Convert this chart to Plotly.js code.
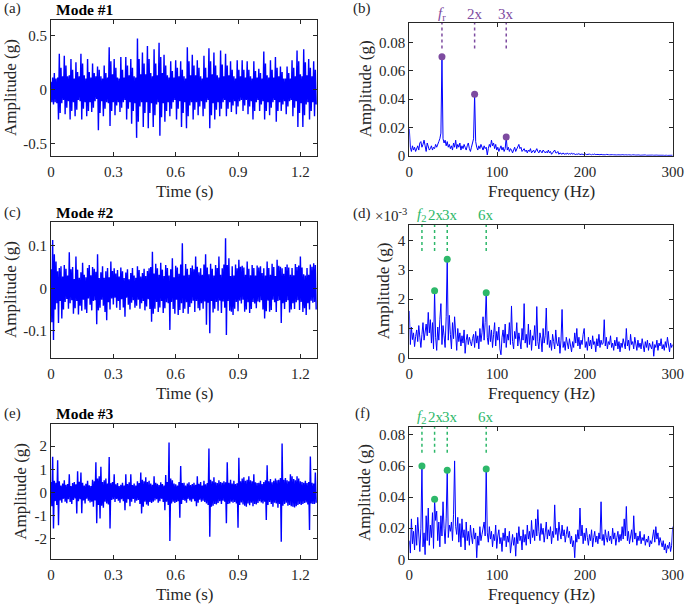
<!DOCTYPE html>
<html>
<head>
<meta charset="utf-8">
<script src="https://cdn.plot.ly/plotly-3.0.1.min.js"></script>
<style>html,body{margin:0;padding:0;background:#fff;}#chart{width:685px;height:605px;}</style>
</head>
<body>
<div id="chart"></div>
<script>
// ---------------- DATA ----------------
const sampleStep = 0.004;      // s between samples of the time signals
const freqStep = 1.2;          // Hz between spectrum bins

const mode1Signal = [
0.07,-0.12,0.11,
-0.14,0.15,-0.12,0.10,-0.13,0.11,
-0.28,0.33,-0.22,0.20,-0.13,0.12,-0.10,
0.31,-0.23,0.22,-0.17,0.12,-0.11,0.13,
-0.28,0.28,-0.20,0.18,-0.12,0.10,
-0.25,0.25,-0.19,0.16,-0.10,0.12,-0.11,
0.33,-0.28,0.24,-0.18,0.13,-0.12,0.10,
-0.25,0.28,-0.20,0.16,-0.12,0.11,
-0.21,0.24,-0.17,0.15,-0.11,0.12,-0.09,
0.21,-0.38,0.18,-0.22,0.12,-0.11,0.10,
-0.25,0.22,-0.18,0.15,-0.12,0.11,-0.13,
0.39,-0.34,0.26,-0.20,0.14,-0.12,
0.28,-0.24,0.20,-0.15,0.11,-0.12,0.10,
-0.21,0.30,-0.17,0.18,-0.12,0.11,-0.10,
0.30,-0.28,0.22,-0.18,0.13,-0.12,
0.28,-0.32,0.20,-0.20,0.12,-0.13,0.11,
-0.45,0.47,-0.30,0.28,-0.16,0.14,-0.12,
0.34,-0.35,0.24,-0.22,0.14,-0.12,
0.40,-0.36,0.28,-0.22,0.15,-0.13,0.12,
-0.35,0.37,-0.24,0.24,-0.14,0.13,-0.12,
0.43,-0.43,0.30,-0.26,0.15,-0.13,
0.32,-0.30,0.22,-0.20,0.13,-0.12,0.11,
-0.25,0.26,-0.18,0.17,-0.12,0.11,-0.10,
0.27,-0.28,0.20,-0.18,0.12,-0.11,
0.26,-0.35,0.18,-0.22,0.12,-0.12,0.10,
-0.36,0.39,-0.25,0.26,-0.15,0.13,-0.12,
0.32,-0.28,0.22,-0.19,0.13,-0.12,
0.27,-0.24,0.20,-0.16,0.12,-0.11,0.10,
-0.25,0.31,-0.18,0.20,-0.12,0.11,-0.10,
0.38,-0.36,0.26,-0.24,0.14,-0.13,
0.34,-0.28,0.22,-0.19,0.13,-0.12,0.11,
-0.25,0.36,-0.18,0.23,-0.12,0.12,-0.10,
0.33,-0.25,0.22,-0.18,0.13,-0.12,
0.26,-0.21,0.18,-0.15,0.12,-0.11,0.10,
-0.23,0.27,-0.16,0.18,-0.11,0.12,-0.10,
0.27,-0.20,0.18,-0.15,0.11,-0.10,
0.26,-0.23,0.18,-0.16,0.12,-0.11,0.10,
-0.28,0.26,-0.20,0.17,-0.12,0.11,-0.10,
0.19,-0.20,0.15,-0.14,0.10,-0.11,
0.35,-0.28,0.24,-0.20,0.13,-0.12,0.11,
-0.24,0.27,-0.17,0.18,-0.12,0.11,-0.10,
0.30,-0.30,0.20,-0.20,0.12,-0.12,
0.21,-0.20,0.16,-0.14,0.10,-0.11,0.10,
-0.23,0.21,-0.16,0.15,-0.11,0.10,-0.10,
0.27,-0.25,0.20,-0.17,0.12,-0.11,
0.36,-0.35,0.26,-0.22,0.14,-0.13,0.12,
-0.35,0.37,-0.24,0.25,-0.14,0.13,-0.12,
0.28,-0.28,0.20,-0.20,0.12,-0.12,
0.26,-0.25,0.18,-0.14
];

const mode2Signal = [
0.045,-0.080,0.114,-0.122,0.080,-0.050,0.063,-0.035,0.040,-0.082,
0.048,-0.030,0.052,-0.071,0.028,-0.050,0.055,-0.032,0.046,-0.025,
0.030,-0.048,0.085,-0.035,0.045,-0.028,0.050,-0.060,0.022,-0.047,
0.075,-0.030,0.044,-0.062,0.025,-0.041,0.038,-0.053,0.060,-0.027,
0.032,-0.050,0.026,-0.058,0.048,-0.024,0.055,-0.039,0.031,-0.052,
0.050,-0.030,0.046,-0.028,0.039,-0.085,0.080,-0.052,0.024,-0.046,
0.038,-0.027,0.052,-0.041,0.025,-0.056,0.040,-0.075,0.048,-0.033,
0.026,-0.050,0.063,-0.024,0.041,-0.038,0.047,-0.022,0.035,-0.046,
0.043,-0.030,0.028,-0.051,0.049,-0.026,0.040,-0.045,0.024,-0.067,
0.037,-0.022,0.045,-0.039,0.021,-0.050,0.036,-0.034,0.048,-0.028,
0.030,-0.046,0.025,-0.041,0.052,-0.027,0.043,-0.048,0.028,-0.035,
0.036,-0.030,0.046,-0.052,0.029,-0.043,0.041,-0.026,0.047,-0.049,
0.050,-0.079,0.086,-0.060,0.035,-0.048,0.058,-0.032,0.047,-0.056,
0.032,-0.045,0.060,-0.030,0.044,-0.058,0.029,-0.047,0.055,-0.033,
0.048,-0.035,0.030,-0.098,0.045,-0.032,0.071,-0.049,0.026,-0.060,
0.053,-0.027,0.049,-0.063,0.034,-0.051,0.056,-0.035,0.106,-0.058,
0.030,-0.048,0.057,-0.033,0.046,-0.060,0.032,-0.044,0.048,-0.035,
0.054,-0.029,0.045,-0.056,0.075,-0.030,0.051,-0.047,0.038,-0.052,
0.047,-0.035,0.032,-0.048,0.056,-0.031,0.080,-0.086,0.049,-0.034,
0.033,-0.106,0.058,-0.030,0.046,-0.057,0.030,-0.048,0.055,-0.032,
0.048,-0.053,0.075,-0.029,0.032,-0.058,0.047,-0.031,0.056,-0.046,
0.118,-0.110,0.055,-0.030,0.071,-0.053,0.029,-0.055,0.052,-0.063,
0.030,-0.048,0.056,-0.032,0.047,-0.054,0.067,-0.029,0.051,-0.036,
0.053,-0.027,0.049,-0.055,0.032,-0.050,0.063,-0.033,0.046,-0.058,
0.031,-0.049,0.055,-0.032,0.048,-0.036,0.030,-0.047,0.054,-0.031,
0.049,-0.033,0.052,-0.028,0.036,-0.050,0.047,-0.071,0.030,-0.054,
0.063,-0.029,0.048,-0.055,0.032,-0.051,0.058,-0.027,0.050,-0.033,
0.029,-0.056,0.067,-0.030,0.053,-0.028,0.051,-0.082,0.047,-0.035,
0.034,-0.049,0.050,-0.032,0.056,-0.028,0.049,-0.057,0.032,-0.050,
0.048,-0.035,0.031,-0.049,0.057,-0.033,0.050,-0.028,0.054,-0.051,
0.075,-0.032,0.049,-0.056,0.033,-0.047,0.030,-0.063,0.048,-0.035,
0.032,-0.050,0.056,-0.029,0.051,-0.034,0.059,-0.032,0.055,-0.050
];

const mode3Signal = [
0.45,-0.60,1.54,-1.56,0.50,-0.38,0.42,-0.55,1.39,-1.42,
0.48,-0.35,0.30,-0.45,0.38,-0.28,0.52,-0.40,0.33,-0.47,
0.36,-0.30,0.78,-0.42,0.28,-0.50,0.40,-0.33,0.45,-0.26,
0.35,-0.91,0.92,-0.38,0.46,-0.30,0.86,-0.90,0.42,-0.35,
0.30,-0.48,0.37,-0.27,0.50,-0.36,0.31,-0.44,0.28,-0.40,
0.55,-0.62,0.48,-0.35,1.30,-1.34,0.60,-0.55,0.70,-1.13,
1.11,-0.58,0.45,-0.66,0.52,-0.40,0.60,-0.48,0.38,-0.52,
1.53,-1.56,0.40,-0.33,0.45,-0.30,0.78,-0.42,0.35,-0.28,
0.40,-0.36,0.27,-0.45,0.33,-0.30,0.42,-0.38,0.30,-0.77,
0.78,-0.45,0.36,-0.30,0.44,-0.60,0.78,-0.40,0.32,-0.28,
0.38,-0.45,0.30,-0.36,0.48,-0.33,0.40,-0.50,0.86,-0.91,
0.55,-0.62,0.48,-0.40,0.65,-0.52,0.45,-0.58,0.50,-0.42,
0.38,-0.46,0.33,-0.40,0.70,-0.35,0.42,-0.30,0.37,-0.45,
0.32,-0.38,0.44,-0.28,0.36,-0.42,0.30,-0.77,0.75,-0.40,
0.45,-0.55,2.16,-2.11,0.60,-0.48,0.52,-0.40,0.38,-0.46,
0.35,-0.42,0.30,-0.38,0.45,-1.10,1.14,-0.50,0.40,-0.33,
0.42,-0.36,0.30,-0.45,0.38,-0.28,0.44,-0.35,0.32,-0.40,
0.36,-0.30,0.42,-0.38,0.33,-0.60,0.70,-0.45,0.37,-0.32,
0.45,-0.40,0.30,-0.36,0.50,-0.42,0.35,-0.48,0.40,-0.55,
1.90,-1.92,0.55,-0.62,0.48,-0.58,0.66,-0.50,0.44,-0.52,
0.40,-0.46,0.52,-0.38,0.45,-0.50,0.42,-0.36,0.48,-0.40,
0.44,-1.34,1.30,-0.50,0.42,-0.48,0.55,-0.40,0.38,-0.45,
0.50,-0.42,0.36,-0.48,0.40,-1.53,1.50,-0.55,0.48,-0.44,
0.60,-0.52,0.65,-0.58,0.50,-0.62,0.55,-0.48,0.70,-0.56,
0.52,-0.45,0.48,-0.60,0.78,-0.50,0.44,-0.52,0.40,-0.46,
0.42,-0.38,0.50,-0.44,0.36,-0.48,0.45,-0.40,0.52,-1.20,
1.18,-0.55,0.48,-0.42,0.58,-0.50,0.44,-0.62,0.50,-0.45,
0.60,-0.48,0.52,-0.66,0.55,-0.50,0.62,-2.14,2.12,-0.58,
0.55,-0.50,0.62,-0.45,0.52,-0.58,0.48,-0.55,0.78,-0.60,
0.70,-0.62,0.58,-0.65,0.52,-0.60,0.70,-0.55,0.60,-0.50,
0.48,-0.55,0.45,-0.50,0.42,-0.46,0.50,-0.44,0.40,-0.52,
0.45,-1.63,1.55,-0.48,0.42,-0.50,0.38,-0.50,0.86,-0.45
];

// spectrum of mode #1 (g), bins of 1.2 Hz from 0 to 300 Hz
const mode1Spectrum = [
0.019,0.006,0.003,0.007,0.004,0.006,0.003,0.005,0.007,0.004,
0.009,0.010,0.006,0.008,0.011,0.007,0.003,0.009,0.006,0.004,
0.005,0.007,0.004,0.006,0.005,0.008,0.006,0.009,0.010,0.012,
0.016,0.070,0.012,0.009,0.011,0.007,0.010,0.006,0.008,0.005,
0.007,0.004,0.009,0.006,0.011,0.005,0.008,0.006,0.009,0.004,
0.007,0.005,0.008,0.006,0.004,0.007,0.009,0.005,0.003,0.006,
0.009,0.012,0.0435,0.010,0.006,0.004,0.007,0.005,0.008,0.006,
0.004,0.007,0.005,0.006,0.0005,0.005,0.008,0.006,0.011,0.007,
0.009,0.005,0.008,0.004,0.006,0.003,0.005,0.007,0.004,0.006,
0.003,0.005,0.0132,0.004,0.006,0.003,0.005,0.004,0.002,0.004,
0.006,0.003,0.005,0.007,0.008,0.005,0.006,0.003,0.004,0.005,
0.003,0.004,0.002,0.004,0.003,0.005,0.002,0.003,0.004,0.002,
0.004,0.005,0.003,0.002,0.004,0.003,0.002,0.004,0.003,0.002,
0.003,0.002,0.004,0.002,0.003,0.001,0.002,0.003,0.004,0.002,
0.002,0.003,0.001,0.002,0.0015,0.001,0.002,0.001,0.0015,0.001,
0.002,0.001,0.0015,0.001,0.002,0.001,0.0015,0.001,0.0008,0.0012,
0.001,0.0015,0.0008,0.001,0.0012,0.0007,0.001,0.0013,0.0008,0.001,
0.0007,0.0011,0.0009,0.0006,0.001,0.0008,0.0012,0.0007,0.0009,0.0006,
0.0008,0.0006,0.001,0.0007,0.0005,0.0008,0.0006,0.0009,0.0005,0.0007,
0.0006,0.0008,0.0005,0.0007,0.0006,0.0004,0.0007,0.0005,0.0006,0.0004,
0.0006,0.0005,0.0007,0.0004,0.0005,0.0006,0.0004,0.0005,0.0006,0.0004,
0.0005,0.0004,0.0006,0.0003,0.0005,0.0004,0.0006,0.0004,0.0005,0.0003,
0.0004,0.0005,0.0003,0.0004,0.0005,0.0003,0.0004,0.0003,0.0005,0.0004,
0.0003,0.0004,0.0003,0.0005,0.0003,0.0004,0.0003,0.0004,0.0002,0.0003,
0.0004,0.0003,0.0002,0.0004,0.0003,0.0002,0.0003,0.0004,0.0002,0.0003,
0.0003
];

// spectrum of mode #2 (units of 1e-3 g)
const mode2SpectrumMilli = [
1.60,0.45,1.05,0.62,0.85,0.38,0.72,0.95,0.55,1.10,
0.70,0.35,0.80,1.20,0.60,0.95,1.15,0.75,1.55,0.85,
1.30,0.50,1.20,0.30,2.29,0.70,0.25,1.05,0.60,1.30,
1.85,0.45,1.10,0.75,0.35,1.40,3.37,0.60,1.45,0.80,
0.30,1.20,0.65,1.40,0.90,0.25,1.00,0.55,0.85,0.40,
0.75,0.50,0.95,0.15,0.60,0.80,0.45,0.70,0.55,0.40,
0.65,0.80,0.35,0.90,0.50,0.75,0.30,1.00,0.55,0.85,
1.40,0.60,1.20,2.22,0.70,0.45,1.10,0.55,0.95,0.35,
0.80,1.20,0.40,0.90,0.60,1.05,0.30,0.10,0.70,0.95,
0.50,1.15,0.35,0.80,0.60,1.20,0.45,1.77,0.55,0.30,
0.90,0.65,1.20,0.40,0.85,0.55,0.30,1.00,0.60,1.85,
0.50,0.80,0.35,1.15,0.45,0.95,0.25,0.75,0.60,1.10,
0.40,1.75,0.55,0.30,0.85,0.65,0.20,1.00,0.50,0.75,
1.70,0.45,0.90,0.35,0.60,0.25,0.80,0.55,0.30,0.95,
0.50,0.40,0.70,0.15,0.60,1.65,0.35,0.55,0.25,0.70,
0.45,0.30,0.65,0.40,0.20,0.55,0.35,0.85,0.50,1.00,
0.40,0.70,0.30,0.60,0.45,0.80,1.00,0.35,0.55,0.25,
0.70,0.40,0.60,0.30,0.75,0.45,0.55,0.20,0.65,0.40,
0.80,0.35,0.60,0.45,0.50,1.30,0.40,0.70,0.30,0.55,
0.45,0.75,0.35,0.50,0.25,0.60,0.40,0.70,0.30,0.55,
0.20,0.50,0.35,0.65,0.45,0.30,1.00,0.40,0.60,0.25,
0.80,0.45,0.55,0.30,0.70,0.40,0.25,0.60,0.35,0.50,
0.30,0.65,0.45,0.20,0.55,0.35,0.60,0.25,0.50,0.40,
0.30,0.55,0.05,0.45,0.35,0.60,0.25,0.50,0.40,0.65,
0.30,0.45,0.25,0.55,0.35,0.70,0.40,0.20,0.50,0.35,
0.45
];

// spectrum of mode #3 (g)
const mode3Spectrum = [
0.012,0.004,0.026,0.010,0.018,0.006,0.022,0.009,0.027,0.013,
0.005,0.020,0.060,0.008,0.017,0.003,0.028,0.012,0.033,0.009,
0.022,0.014,0.030,0.007,0.0386,0.025,0.031,0.012,0.024,0.008,
0.028,0.015,0.037,0.020,0.010,0.026,0.0573,0.014,0.022,0.018,
0.024,0.012,0.029,0.0633,0.021,0.016,0.027,0.011,0.023,0.008,
0.026,0.014,0.019,0.006,0.024,0.012,0.018,0.009,0.022,0.015,
0.010,0.020,0.013,0.017,0.001,0.015,0.009,0.021,0.012,0.016,
0.019,0.024,0.015,0.0581,0.017,0.011,0.021,0.013,0.018,0.008,
0.016,0.012,0.022,0.007,0.015,0.019,0.010,0.014,0.005,0.017,
0.012,0.020,0.008,0.015,0.011,0.018,0.004,0.013,0.016,0.009,
0.014,0.002,0.017,0.010,0.021,0.012,0.015,0.006,0.019,0.011,
0.016,0.009,0.022,0.013,0.018,0.010,0.025,0.014,0.019,0.012,
0.026,0.015,0.032,0.018,0.012,0.023,0.016,0.020,0.011,0.017,
0.024,0.013,0.019,0.015,0.021,0.010,0.018,0.014,0.035,0.016,
0.020,0.012,0.024,0.017,0.013,0.022,0.015,0.019,0.011,0.016,
0.021,0.014,0.018,0.010,0.015,0.008,0.012,0.001,0.016,0.011,
0.019,0.013,0.033,0.015,0.022,0.010,0.017,0.012,0.020,0.014,
0.009,0.016,0.012,0.019,0.008,0.014,0.018,0.011,0.015,0.010,
0.017,0.013,0.037,0.012,0.016,0.009,0.019,0.014,0.011,0.018,
0.012,0.015,0.010,0.020,0.013,0.017,0.009,0.014,0.018,0.011,
0.016,0.012,0.021,0.013,0.026,0.015,0.034,0.012,0.018,0.010,
0.014,0.019,0.011,0.028,0.013,0.017,0.009,0.015,0.012,0.018,
0.010,0.014,0.012,0.016,0.009,0.013,0.011,0.015,0.008,0.012,
0.010,0.014,0.019,0.011,0.021,0.013,0.017,0.009,0.014,0.011,
0.008,0.012,0.006,0.010,0.004,0.009,0.007,0.011,0.005,0.009,
0.021
];

// characteristic frequencies (Hz) and their labels
const mode1HarmFreqs = [37.2, 74.4, 110.4];
const mode1HarmLabels = ['<i>f</i><sub>r</sub>', '2x', '3x'];
const mode23HarmFreqs = [14.4, 28.8, 43.2, 87.6];
const mode23HarmLabels = ['<i>f</i><sub>2</sub>', '2x', '3x', '6x'];
const mode2MarkedFreqs = [28.8, 43.2, 87.6];
const mode3MarkedFreqs = [14.4, 28.8, 43.2, 87.6];

// tick values and labels
const timeTickVals = [0, 0.3, 0.6, 0.9, 1.2];
const timeTickText = ['0', '0.3', '0.6', '0.9', '1.2'];
const freqTickVals = [0, 100, 200, 300];
const freqTickText = ['0', '100', '200', '300'];
const ampTickValsA = [-0.5, 0, 0.5];
const ampTickTextA = ['-0.5', '0', '0.5'];
const ampTickValsB = [0, 0.02, 0.04, 0.06, 0.08];
const ampTickTextB = ['0', '0.02', '0.04', '0.06', '0.08'];
const ampTickValsC = [-0.1, 0, 0.1];
const ampTickTextC = ['-0.1', '0', '0.1'];
const ampTickValsD = [0, 1, 2, 3, 4];
const ampTickTextD = ['0', '1', '2', '3', '4'];
const ampTickValsE = [-2, -1, 0, 1, 2];
const ampTickTextE = ['-2', '-1', '0', '1', '2'];
const ampTickValsF = [0, 0.02, 0.04, 0.06, 0.08];
const ampTickTextF = ['0', '0.02', '0.04', '0.06', '0.08'];

// ---------------- STYLE / LAYOUT ----------------
const W = 685, H = 605;
const FONT = '"Liberation Serif", "Times New Roman", Times, serif';
const INK = '#262626';
const BLUE = '#0000ff';
const PURPLE = '#7d4ba0';
const GREEN = '#2db86a';

const px = x => x / W;
const py = y => 1 - y / H;
const xdom = (a, b) => [a / W, b / W];
const ydom = (a, b) => [1 - b / H, 1 - a / H];

const timeAxis = arr => arr.map((_, i) => i * sampleStep);
const freqAxis = arr => arr.map((_, i) => i * freqStep);
const ampAt = (spec, f) => spec[Math.round(f / freqStep)];

function baseAxis(extra) {
  return Object.assign({
    showline: true, linecolor: INK, linewidth: 1, mirror: 'ticks',
    ticks: 'inside', ticklen: 4, tickwidth: 1, tickcolor: INK,
    showgrid: false, zeroline: false,
    tickfont: {family: FONT, size: 15, color: INK},
    tickmode: 'array', fixedrange: true
  }, extra);
}

const SIGW = 1.4;
const traces = [];
// (a)
traces.push({x: timeAxis(mode1Signal), y: mode1Signal, xaxis: 'x', yaxis: 'y', type: 'scatter', mode: 'lines', line: {color: BLUE, width: SIGW}, hoverinfo: 'skip'});
// (b)
traces.push({x: freqAxis(mode1Spectrum), y: mode1Spectrum, xaxis: 'x2', yaxis: 'y2', type: 'scatter', mode: 'lines', line: {color: BLUE, width: 1}, hoverinfo: 'skip'});
traces.push({x: mode1HarmFreqs, y: mode1HarmFreqs.map(f => ampAt(mode1Spectrum, f)), xaxis: 'x2', yaxis: 'y2', type: 'scatter', mode: 'markers', marker: {color: PURPLE, size: 7}, cliponaxis: false});
// (c)
traces.push({x: timeAxis(mode2Signal), y: mode2Signal, xaxis: 'x3', yaxis: 'y3', type: 'scatter', mode: 'lines', line: {color: BLUE, width: SIGW}, hoverinfo: 'skip'});
// (d)
traces.push({x: freqAxis(mode2SpectrumMilli), y: mode2SpectrumMilli, xaxis: 'x4', yaxis: 'y4', type: 'scatter', mode: 'lines', line: {color: BLUE, width: 1}, hoverinfo: 'skip'});
traces.push({x: mode2MarkedFreqs, y: mode2MarkedFreqs.map(f => ampAt(mode2SpectrumMilli, f)), xaxis: 'x4', yaxis: 'y4', type: 'scatter', mode: 'markers', marker: {color: GREEN, size: 7}, cliponaxis: false});
// (e)
traces.push({x: timeAxis(mode3Signal), y: mode3Signal, xaxis: 'x5', yaxis: 'y5', type: 'scatter', mode: 'lines', line: {color: BLUE, width: SIGW}, hoverinfo: 'skip'});
// (f)
traces.push({x: freqAxis(mode3Spectrum), y: mode3Spectrum, xaxis: 'x6', yaxis: 'y6', type: 'scatter', mode: 'lines', line: {color: BLUE, width: 1}, hoverinfo: 'skip'});
traces.push({x: mode3MarkedFreqs, y: mode3MarkedFreqs.map(f => ampAt(mode3Spectrum, f)), xaxis: 'x6', yaxis: 'y6', type: 'scatter', mode: 'markers', marker: {color: GREEN, size: 7}, cliponaxis: false});

const LX0 = 51, LX1 = 317, RX0 = 409.3, RX1 = 672.7;
const yA = [20, 156], yB = [22.7, 155.7], yC = [221.7, 358.3], yD = [225, 357.7], yE = [424.3, 559.3], yF = [426.7, 559.3];
const rangeB = [0, 0.0942], rangeD = [0, 4.54], rangeF = [0, 0.0853];

const layout = {
  width: W, height: H, margin: {l: 0, r: 0, t: 0, b: 0},
  paper_bgcolor: '#fff', plot_bgcolor: '#fff', showlegend: false,
  font: {family: FONT, color: INK},
  xaxis: baseAxis({domain: xdom(LX0, LX1), anchor: 'y', range: [0, 1.28], tickvals: timeTickVals, ticktext: timeTickText, ticklabelstandoff: 2}),
  yaxis: baseAxis({domain: ydom(...yA), anchor: 'x', range: [-0.618, 0.642], tickvals: ampTickValsA, ticktext: ampTickTextA}),
  xaxis2: baseAxis({domain: xdom(RX0, RX1), anchor: 'y2', range: [0, 300], tickvals: freqTickVals, ticktext: freqTickText, ticklabelstandoff: 2}),
  yaxis2: baseAxis({domain: ydom(...yB), anchor: 'x2', range: rangeB, tickvals: ampTickValsB, ticktext: ampTickTextB}),
  xaxis3: baseAxis({domain: xdom(LX0, LX1), anchor: 'y3', range: [0, 1.28], tickvals: timeTickVals, ticktext: timeTickText, ticklabelstandoff: 2}),
  yaxis3: baseAxis({domain: ydom(...yC), anchor: 'x3', range: [-0.165, 0.157], tickvals: ampTickValsC, ticktext: ampTickTextC}),
  xaxis4: baseAxis({domain: xdom(RX0, RX1), anchor: 'y4', range: [0, 300], tickvals: freqTickVals, ticktext: freqTickText, ticklabelstandoff: 2}),
  yaxis4: baseAxis({domain: ydom(...yD), anchor: 'x4', range: rangeD, tickvals: ampTickValsD, ticktext: ampTickTextD}),
  xaxis5: baseAxis({domain: xdom(LX0, LX1), anchor: 'y5', range: [0, 1.28], tickvals: timeTickVals, ticktext: timeTickText, ticklabelstandoff: 2}),
  yaxis5: baseAxis({domain: ydom(...yE), anchor: 'x5', range: [-2.9, 2.95], tickvals: ampTickValsE, ticktext: ampTickTextE}),
  xaxis6: baseAxis({domain: xdom(RX0, RX1), anchor: 'y6', range: [0, 300], tickvals: freqTickVals, ticktext: freqTickText, ticklabelstandoff: 2}),
  yaxis6: baseAxis({domain: ydom(...yF), anchor: 'x6', range: rangeF, tickvals: ampTickValsF, ticktext: ampTickTextF}),
  shapes: [],
  annotations: []
};

// dotted marker lines at characteristic frequencies
function dotLines(freqs, xr, yr, y0, y1, color) {
  freqs.forEach(f => layout.shapes.push({type: 'line', xref: xr, yref: yr, x0: f, x1: f, y0: y0, y1: y1, line: {color: color, width: 1.5, dash: 'dot'}}));
}
dotLines(mode1HarmFreqs, 'x2', 'y2', 0.076, rangeB[1], PURPLE);
dotLines(mode23HarmFreqs, 'x4', 'y4', 3.65, rangeD[1], GREEN);
dotLines(mode23HarmFreqs, 'x6', 'y6', 0.0686, rangeF[1], GREEN);

function label(text, xr, x, y, opts) {
  layout.annotations.push(Object.assign({
    text: text, xref: xr, yref: 'paper', x: x, y: py(y), showarrow: false,
    xanchor: 'center', yanchor: 'middle',
    font: {family: FONT, size: 15, color: INK}
  }, opts || {}));
}

// axis titles
const titleFont = {family: FONT, size: 17, color: INK};
const xTitles = [['Time (s)', (LX0 + LX1) / 2, yA[1]], ['Frequency (Hz)', (RX0 + RX1) / 2, yB[1]],
                 ['Time (s)', (LX0 + LX1) / 2, yC[1]], ['Frequency (Hz)', (RX0 + RX1) / 2, yD[1]],
                 ['Time (s)', (LX0 + LX1) / 2, yE[1]], ['Frequency (Hz)', (RX0 + RX1) / 2, yF[1]]];
xTitles.forEach(t => label(t[0], 'paper', px(t[1]), t[2] + 35.5, {font: titleFont}));
const yTitles = [[10, yA], [365, yB], [10, yC], [383, yD], [21, yE], [364, yF]];
yTitles.forEach(t => label('Amplitude (g)', 'paper', px(t[0]), (t[1][0] + t[1][1]) / 2, {font: titleFont, textangle: -90}));

mode1HarmFreqs.forEach((f, i) => label(mode1HarmLabels[i], 'x2', f, 14, {font: {family: FONT, size: 15, color: PURPLE}}));
mode23HarmFreqs.forEach((f, i) => label(mode23HarmLabels[i], 'x4', f, 215, {font: {family: FONT, size: 15, color: GREEN}, xshift: i === 2 ? 3 : (i === 1 ? 1 : 0)}));
mode23HarmFreqs.forEach((f, i) => label(mode23HarmLabels[i], 'x6', f, 417, {font: {family: FONT, size: 15, color: GREEN}, xshift: i === 2 ? 3 : (i === 1 ? 1 : 0)}));

// multiplier of panel (d)
label('×10<sup>-3</sup>', 'paper', px(409), 215, {xanchor: 'right'});

// panel letters and titles
const panelLetters = ['(a)', '(b)', '(c)', '(d)', '(e)', '(f)'];
const letterPos = [[2, 9], [351, 8], [2, 212], [351, 213], [2, 413], [353, 413]];
panelLetters.forEach((t, i) => label(t, 'paper', px(letterPos[i][0]), letterPos[i][1], {xanchor: 'left'}));
const modeTitles = ['Mode #1', 'Mode #2', 'Mode #3'];
const modeTitleY = [10, 212, 413];
modeTitles.forEach((t, i) => label('<b>' + t + '</b>', 'paper', px(54), modeTitleY[i], {xanchor: 'left', font: {family: FONT, size: 15.5, color: '#000'}}));

Plotly.newPlot('chart', traces, layout, {staticPlot: true, displayModeBar: false});
</script>
</body>
</html>
